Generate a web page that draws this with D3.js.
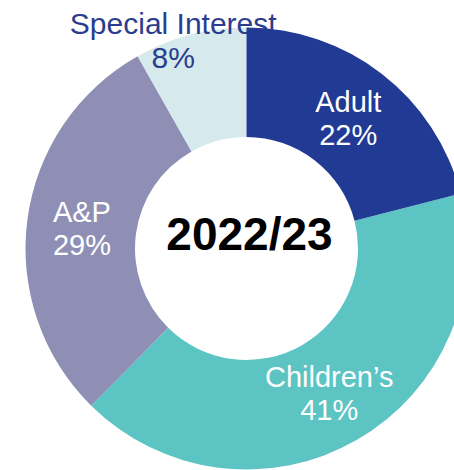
<!DOCTYPE html>
<html>
<head>
<meta charset="utf-8">
<script src="https://cdn.jsdelivr.net/npm/d3@7"></script>
<style>
  body { margin: 0; background: #fff; }
  text { font-family: "Liberation Sans", Arial, sans-serif; }
</style>
</head>
<body>
<svg width="454" height="470"></svg>
<script>
// data
var categories = ["Adult", "Children\u2019s", "A&P", "Special Interest"];
var shares = [21, 41.4, 29.4, 8.2]; // slice sizes as drawn
var pctLabels = ["22%", "41%", "29%", "8%"];
var colors = ["#213a94", "#5cc4c2", "#8f8fb5", "#d6eaee"];
var centerTitle = "2022/23";

var svg = d3.select("svg");
var cx = 246.5, cy = 248.5;
var outerR = 221, innerR = 111.5;

var g = svg.append("g").attr("transform", `translate(${cx},${cy})`);

var data = categories.map(function (c, i) {
  return { name: c, value: shares[i], label: pctLabels[i], color: colors[i] };
});

var pie = d3.pie().sort(null).value(function (d) { return d.value; });
var arcs = pie(data);

var arc = d3.arc().innerRadius(innerR).outerRadius(outerR);
var labelArc = d3.arc().innerRadius(166).outerRadius(166);

// slices except Adult
g.selectAll("path.slice")
  .data(arcs.slice(1))
  .enter()
  .append("path")
  .attr("class", "slice")
  .attr("d", arc)
  .attr("fill", function (d) { return d.data.color; });

// outside label: over its own slice but under Adult
var si = arcs[3];
var siPos = d3.arc().innerRadius(213).outerRadius(213).centroid(si);
var siText = g.append("text")
  .attr("text-anchor", "middle")
  .attr("fill", "#2b3d8e")
  .style("font-size", "30px")
  .attr("transform", `translate(${siPos[0] - 19},${siPos[1]})`);
siText.append("tspan").attr("x", 0).attr("y", -9).text(si.data.name);
siText.append("tspan").attr("x", 0).attr("y", 25).text(si.data.label);

// Adult slice on top
g.append("path")
  .datum(arcs[0])
  .attr("d", arc)
  .attr("fill", function (d) { return d.data.color; });

// inside labels
var lab = g.selectAll("text.lab")
  .data(arcs.slice(0, 3))
  .enter()
  .append("text")
  .attr("class", "lab")
  .attr("text-anchor", "middle")
  .attr("fill", "#ffffff")
  .style("font-size", "29px")
  .attr("transform", function (d) {
    var c = labelArc.centroid(d);
    return `translate(${c[0]},${c[1]})`;
  });
lab.append("tspan").attr("x", 0).attr("y", -5).text(function (d) { return d.data.name; });
lab.append("tspan").attr("x", 0).attr("y", 28).text(function (d) { return d.data.label; });

// centre title
g.append("text")
  .attr("text-anchor", "middle")
  .attr("x", 3)
  .attr("y", 1.5)
  .attr("fill", "#000")
  .style("font-size", "46px")
  .style("font-weight", "bold")
  .text(centerTitle);
</script>
</body>
</html>
